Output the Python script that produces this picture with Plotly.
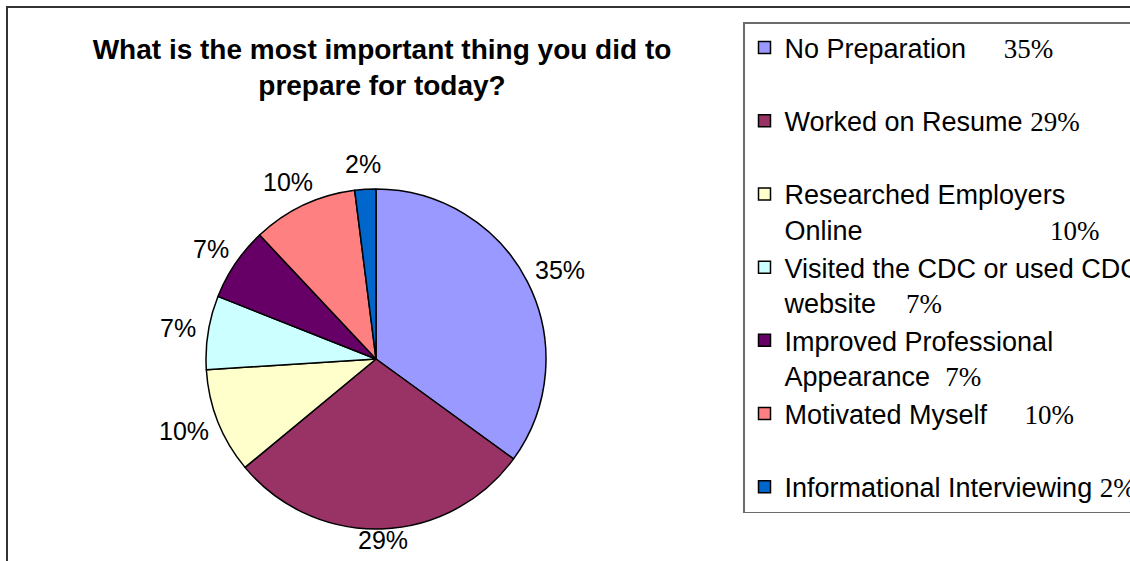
import math
import plotly.graph_objects as go

# ---- data ----
categories = [
    "No Preparation",
    "Worked on Resume",
    "Researched Employers<br>Online",
    "Visited the CDC or used CDC\u00a0\u00a0\u00a0<br>website",
    "Improved Professional<br>Appearance",
    "Motivated Myself",
    "Informational Interviewing",
]
values = [35, 29, 10, 7, 7, 10, 2]
colors = ["#9999FF", "#993366", "#FFFFCC", "#CCFFFF", "#660066", "#FF8080", "#0066CC"]

title_text = "What is the most important thing you did to<br>prepare for today?"

# style: spaces between legend label and its percent
pct_gap = [5, 1, 25, 4, 2, 5, 1]

W, H = 1130, 561
SANS = "Liberation Sans, Arial, sans-serif"
SERIF_STYLE = "font-family:'Liberation Serif','Times New Roman',serif"
LABEL_SIZE = 25

total = sum(values)
pcts = [f"{round(100 * v / total)}%" for v in values]

legend_names = []
for i, (cat, pct, g) in enumerate(zip(categories, pcts, pct_gap)):
    name = cat + "\u00a0" * g + f'<span style="{SERIF_STYLE}">{pct}</span>'
    if "<br>" not in cat and i < len(categories) - 1:
        name += "<br>\u00a0"
    legend_names.append(name)

# pie geometry (pixels) -> paper domain
cx, cy, r = 376, 359, 170

fig = go.Figure(
    go.Pie(
        labels=legend_names,
        values=values,
        sort=False,
        direction="clockwise",
        rotation=0,
        marker=dict(colors=colors, line=dict(color="black", width=1.5)),
        textinfo="none",
        hoverinfo="label+percent",
        domain=dict(
            x=[(cx - r) / W, (cx + r) / W],
            y=[1 - (cy + r) / H, 1 - (cy - r) / H],
        ),
    )
)

# percentage labels placed just outside each slice, at the slice's mid-angle
# (kept inside the chart area, like the original's best-fit labels)
annotations = []
cum = 0
for v, pct in zip(values, pcts):
    mid = 2 * math.pi * (cum + v / 2) / total  # clockwise from 12 o'clock
    cum += v
    s, c = math.sin(mid), math.cos(mid)
    w = LABEL_SIZE * (0.556 * (len(pct) - 1) + 0.889)
    h = LABEL_SIZE * 1.08
    gap = 12
    px = cx + (r + gap) * s + (w / 2) * s
    py = cy - (r + gap) * c - (h / 2) * c
    py = min(py, H - 21)
    annotations.append(
        dict(
            x=px / W,
            y=1 - py / H,
            xref="paper",
            yref="paper",
            text=pct,
            showarrow=False,
            xanchor="center",
            yanchor="middle",
            font=dict(family=SANS, size=LABEL_SIZE, color="black"),
        )
    )

fig.update_layout(
    width=W,
    height=H,
    margin=dict(l=0, r=0, t=0, b=0, autoexpand=False),
    paper_bgcolor="white",
    plot_bgcolor="white",
    font=dict(family=SANS, color="black"),
    title=dict(
        text=f"<b>{title_text}</b>",
        x=382 / W,
        xanchor="center",
        y=1 - 59 / H,
        yanchor="top",
        font=dict(family=SANS, size=28, color="black"),
    ),
    legend=dict(
        x=743 / W,
        xanchor="left",
        y=1 - 22 / H,
        yanchor="top",
        valign="top",
        bordercolor="#6b6b6b",
        borderwidth=1.5,
        bgcolor="white",
        font=dict(family=SANS, size=27, color="black"),
    ),
    annotations=annotations,
    shapes=[
        dict(
            type="rect",
            xref="paper",
            yref="paper",
            x0=7 / W,
            x1=1.02,
            y0=-0.02,
            y1=1 - 7 / H,
            line=dict(color="#333333", width=2),
            fillcolor="rgba(0,0,0,0)",
            layer="above",
        )
    ],
)

fig.write_html(
    "out.html",
    config={"displayModeBar": False},
    post_script="document.body.style.margin='0';",
)
